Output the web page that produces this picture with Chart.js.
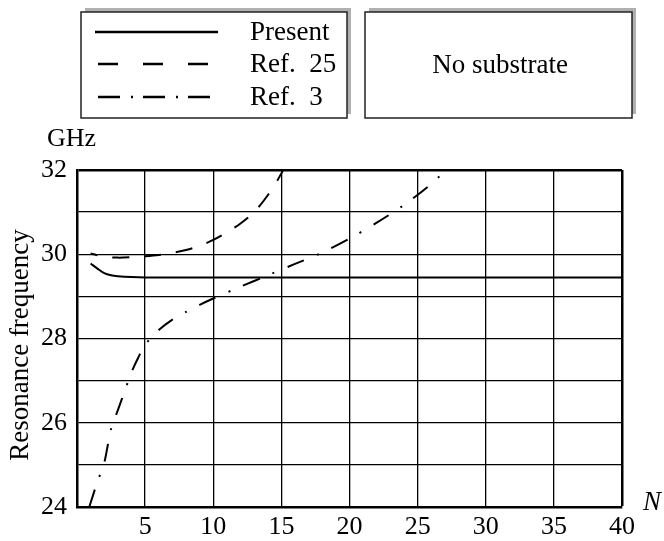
<!DOCTYPE html>
<html><head><meta charset="utf-8">
<script src="https://cdn.jsdelivr.net/npm/chart.js@4/dist/chart.umd.min.js"></script>
<style>html,body{margin:0;padding:0;background:#fff;}#wrap{width:664px;height:541px;position:relative;}</style>
</head><body><div id="wrap"><canvas id="c" width="664" height="541"></canvas></div>
<script>
// ---- data ----
const seriesNames = ["Present", "Ref.  25", "Ref.  3"];
const presentN = [1, 1.5, 2, 2.5, 3, 4, 5, 7, 10, 20, 30, 40];
const presentF = [29.78, 29.66, 29.55, 29.5, 29.48, 29.46, 29.45, 29.45, 29.45, 29.45, 29.45, 29.45];
const ref25N = [1, 2, 3, 4, 5, 6, 7, 8, 9, 10, 11, 12, 13, 14, 15, 16];
const ref25F = [30.02, 29.94, 29.92, 29.93, 29.95, 29.98, 30.03, 30.1, 30.2, 30.34, 30.52, 30.73, 31.0, 31.4, 31.92, 32.6];
const ref3N = [0.9, 1.5, 2, 2.5, 3, 3.5, 4, 4.5, 5, 6, 7, 8, 9, 10, 12, 14, 16, 18, 20, 22, 24, 26, 28];
const ref3F = [24.0, 24.6, 25.05, 25.85, 26.3, 26.75, 27.2, 27.55, 27.85, 28.2, 28.45, 28.63, 28.8, 28.95, 29.23, 29.5, 29.77, 30.04, 30.37, 30.75, 31.17, 31.67, 32.3];
const xTicks = [5, 10, 15, 20, 25, 30, 35, 40];
const yTicks = [24, 26, 28, 30, 32];
const xAxisLabel = "N";
const yAxisLabel = "Resonance frequency";
const yUnit = "GHz";
const boxText = "No substrate";

const pts = (xs, ys) => xs.map((x, i) => ({x: x, y: ys[i]}));
const FONT = "'Liberation Serif', 'Times New Roman', serif";

const overlay = {
  id: 'overlay',
  afterDraw(chart) {
    const ctx = chart.ctx;
    ctx.save();
    function box(x1, y1, x2, y2) {
      ctx.fillStyle = '#b0b0b0';
      ctx.fillRect(x1 + 4, y1 - 4, x2 - x1, y2 - y1);
      ctx.fillStyle = '#fff';
      ctx.fillRect(x1, y1, x2 - x1, y2 - y1);
      ctx.strokeStyle = '#222';
      ctx.lineWidth = 1.5;
      ctx.setLineDash([]);
      ctx.strokeRect(x1, y1, x2 - x1, y2 - y1);
    }
    box(81, 12, 347, 118);
    box(365, 12, 632, 118);
    const rows = [32, 64, 97];
    const dashes = [[], [20, 25], [22, 11, 2, 10]];
    ctx.lineWidth = 2.5;
    ctx.strokeStyle = '#000';
    for (let i = 0; i < 3; i++) {
      ctx.setLineDash(dashes[i]);
      ctx.beginPath();
      ctx.moveTo(i === 0 ? 95 : 98, rows[i]);
      ctx.lineTo(i === 0 ? 218 : 212, rows[i]);
      ctx.stroke();
    }
    ctx.setLineDash([]);
    ctx.fillStyle = '#000';
    ctx.font = "27px " + FONT;
    ctx.textBaseline = 'middle';
    ctx.textAlign = 'left';
    for (let i = 0; i < 3; i++) ctx.fillText(seriesNames[i], 250, rows[i] + 1);
    ctx.textAlign = 'center';
    ctx.fillText(boxText, 500, 66);
    ctx.font = "26px " + FONT;
    ctx.textAlign = 'left';
    ctx.fillText(yUnit, 47, 139);
    ctx.font = "italic 27px " + FONT;
    ctx.fillText(xAxisLabel, 643, 503);
    ctx.font = "27px " + FONT;
    ctx.translate(21, 345);
    ctx.rotate(-Math.PI / 2);
    ctx.textAlign = 'center';
    ctx.fillText(yAxisLabel, 0, 0);
    ctx.restore();
  }
};

new Chart(document.getElementById('c'), {
  type: 'line',
  data: {
    datasets: [
      {label: seriesNames[0], data: pts(presentN, presentF), borderColor: '#000', borderWidth: 2, pointRadius: 0, tension: 0.3, fill: false, clip: 0},
      {label: seriesNames[1], data: pts(ref25N, ref25F), borderColor: '#000', borderWidth: 2, borderDash: [17, 15], borderDashOffset: 10, pointRadius: 0, tension: 0.3, fill: false, clip: 0},
      {label: seriesNames[2], data: pts(ref3N, ref3F), borderColor: '#000', borderWidth: 2, borderDash: [18, 14, 2, 14], pointRadius: 0, tension: 0.3, fill: false, clip: 0}
    ]
  },
  options: {
    responsive: false,
    animation: false,
    events: [],
    layout: {padding: {left: 0, right: 42, top: 170, bottom: 0}},
    plugins: {legend: {display: false}, tooltip: {enabled: false}, title: {display: false}},
    scales: {
      x: {
        type: 'linear', min: 0, max: 40,
        afterFit: s => { s.height = 34; },
        afterBuildTicks: s => { s.ticks = [0].concat(xTicks).map(v => ({value: v})); },
        ticks: {color: '#000', font: {family: FONT, size: 26}, padding: 5, maxRotation: 0, autoSkip: false,
          callback: v => (xTicks.includes(v) ? String(v) : '')},
        grid: {color: '#000', drawTicks: false, lineWidth: c => (c.tick && c.tick.value === 40 ? 2.5 : 1.3)},
        border: {display: true, color: '#000', width: 2.5}
      },
      y: {
        type: 'linear', min: 24, max: 32,
        afterFit: s => { s.width = 77; },
        afterBuildTicks: s => { const t = []; for (let v = 24; v <= 32; v++) t.push({value: v}); s.ticks = t; },
        ticks: {color: '#000', font: {family: FONT, size: 26}, padding: 10, autoSkip: false,
          callback: v => (yTicks.includes(v) ? String(v) : '')},
        grid: {color: '#000', drawTicks: false, lineWidth: c => (c.tick && c.tick.value === 32 ? 2.5 : 1.3)},
        border: {display: true, color: '#000', width: 2.5}
      }
    }
  },
  plugins: [overlay]
});
</script></body></html>
